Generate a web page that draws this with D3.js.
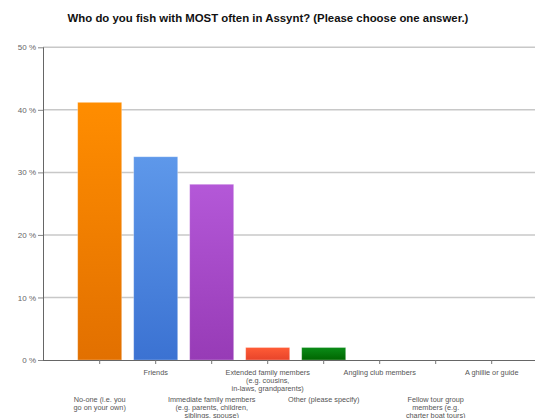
<!DOCTYPE html>
<html>
<head>
<meta charset="utf-8">
<script src="https://cdn.jsdelivr.net/npm/d3@7"></script>
<style>
  html, body { margin: 0; padding: 0; background: #fff; }
  svg { display: block; font-family: "Liberation Sans", Arial, sans-serif; }
</style>
</head>
<body>
<svg id="chart" width="538" height="418"></svg>
<script>
// Survey answers, in axis order
const categories = [
  "No-one (i.e. you|go on your own)",
  "Friends",
  "Immediate family members|(e.g. parents, children,|siblings, spouse)",
  "Extended family members|(e.g. cousins,|in-laws, grandparents)",
  "Other (please specify)",
  "Angling club members",
  "Fellow tour group|members (e.g.|charter boat tours)",
  "A ghillie or guide"
];
// Share of respondents, percent
const percentages = [41.2, 32.5, 28.1, 2.0, 2.0, 0, 0, 0];
const yTicks = [0, 10, 20, 30, 40, 50];
const yTickLabels = ["0 %", "10 %", "20 %", "30 %", "40 %", "50 %"];
const barColours = [
  ["#ff8d00", "#e27000"],
  ["#5e98ea", "#3b72d2"],
  ["#b458d8", "#973bb6"],
  ["#ff5c36", "#e8442a"],
  ["#0b8c18", "#006600"],
  ["#999999", "#777777"],
  ["#999999", "#777777"],
  ["#999999", "#777777"]
];

const svg = d3.select("#chart");
const plotLeft = 43, plotRight = 535, plotTop = 47.3, plotBottom = 360;

const x = d3.scaleBand()
  .domain(categories)
  .range([71.7, 519.7])
  .paddingInner(0.214)
  .paddingOuter(0.107);

const y = d3.scaleLinear().domain([0, 50]).range([plotBottom, plotTop]);

// Title
svg.append("text")
  .attr("x", 268).attr("y", 22)
  .attr("text-anchor", "middle")
  .attr("font-size", 11.4).attr("font-weight", "bold").attr("fill", "#111")
  .text("Who do you fish with MOST often in Assynt? (Please choose one answer.)");

// Gradients per bar
const defs = svg.append("defs");
barColours.forEach((c, i) => {
  const g = defs.append("linearGradient")
    .attr("id", "bar" + i).attr("x1", 0).attr("y1", 0).attr("x2", 0).attr("y2", 1);
  g.append("stop").attr("offset", "0%").attr("stop-color", c[0]);
  g.append("stop").attr("offset", "100%").attr("stop-color", c[1]);
});

// Horizontal grid lines
svg.append("g").selectAll("line")
  .data(yTicks.filter(t => t > 0))
  .join("line")
  .attr("x1", plotLeft).attr("x2", plotRight)
  .attr("y1", d => y(d)).attr("y2", d => y(d))
  .attr("stroke", "#c8c8c8").attr("stroke-width", 1.5);

// Y axis
const yAxis = d3.axisLeft(y)
  .tickValues(yTicks)
  .tickFormat((d, i) => yTickLabels[i])
  .tickSize(5).tickPadding(2);
const yg = svg.append("g").attr("transform", `translate(${plotLeft},0)`).call(yAxis);
yg.select(".domain").attr("stroke", "#666").attr("d", `M0.5,${plotTop}V${plotBottom}`);
yg.selectAll(".tick line").attr("stroke", "#888");
yg.selectAll(".tick text").attr("font-size", 8).attr("fill", "#666")
  .attr("font-family", "'Liberation Sans', Arial, sans-serif");

// Bars
svg.append("g").selectAll("rect")
  .data(percentages)
  .join("rect")
  .attr("x", (d, i) => x(categories[i]))
  .attr("width", x.bandwidth())
  .attr("y", d => y(d))
  .attr("height", d => plotBottom - y(d))
  .attr("fill", (d, i) => `url(#bar${i})`)
  .attr("stroke", "#fff").attr("stroke-opacity", 0.35).attr("stroke-width", 0.8);

// X axis
const xAxis = d3.axisBottom(x).tickSize(4).tickFormat("");
const xg = svg.append("g").attr("transform", `translate(0,${plotBottom})`).call(xAxis);
xg.select(".domain").attr("d", `M${plotLeft},0.5H${plotRight}`).attr("stroke", "#666");
xg.selectAll(".tick line").attr("stroke", "#777");

// Staggered category labels
const labels = svg.append("g").attr("font-size", 7.3).attr("fill", "#555").attr("text-anchor", "middle");
categories.forEach((c, i) => {
  const lines = c.split("|");
  const y0 = i % 2 === 1 ? 374.5 : 401.5;
  const cx = x(c) + x.bandwidth() / 2;
  const t = labels.append("text").attr("x", cx).attr("y", y0);
  lines.forEach((ln, k) => {
    t.append("tspan").attr("x", cx).attr("dy", k === 0 ? 0 : 8).text(ln);
  });
});
</script>
</body>
</html>
